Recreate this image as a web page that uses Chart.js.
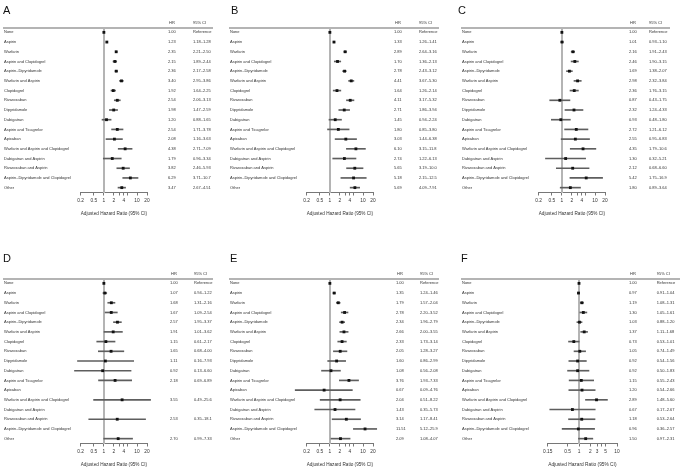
<!DOCTYPE html>
<html>
<head>
<meta charset="utf-8">
<script src="https://cdn.jsdelivr.net/npm/chart.js@4.4.0/dist/chart.umd.min.js"></script>
<style>
  html, body { margin: 0; padding: 0; background: #fff; }
  #wrap { position: relative; width: 680px; height: 470px; overflow: hidden; }
  #wrap canvas { position: absolute; }
</style>
</head>
<body>
<div id="wrap">
  <canvas id="chartA" width="224" height="220" style="left:0;top:0"></canvas>
  <canvas id="chartB" width="224" height="220" style="left:226px;top:0"></canvas>
  <canvas id="chartC" width="222" height="220" style="left:458px;top:0"></canvas>
  <canvas id="chartD" width="224" height="220" style="left:0;top:251px"></canvas>
  <canvas id="chartE" width="224" height="220" style="left:226px;top:251px"></canvas>
  <canvas id="chartF" width="222" height="220" style="left:458px;top:251px"></canvas>
</div>
<script>
var FONT = '"Liberation Sans", Arial, sans-serif';

var categories = ['None', 'Aspirin', 'Warfarin', 'Aspirin and Clopidogrel', 'Aspirin\u2013Dipyridamole',
  'Warfarin and Aspirin', 'Clopidogrel', 'Rivaroxaban', 'Dipyridamole', 'Dabigatran',
  'Aspirin and Ticagrelor', 'Apixaban', 'Warfarin and Aspirin and Clopidogrel', 'Dabigatran and Aspirin',
  'Rivaroxaban and Aspirin', 'Aspirin\u2013Dipyridamole and Clopidogrel', 'Other'];

// hazard ratios and 95% CI per panel
var hrA = [1.00, 1.23, 2.35, 2.15, 2.36, 3.40, 1.92, 2.54, 1.98, 1.20, 2.54, 2.08, 4.38, 1.79, 3.82, 6.29, 3.47];
var loA = [null, 1.18, 2.21, 1.89, 2.17, 2.95, 1.64, 2.06, 1.47, 0.88, 1.71, 1.16, 2.71, 0.96, 2.46, 3.71, 2.67];
var hiA = [null, 1.28, 2.50, 2.44, 2.58, 3.86, 2.25, 3.13, 2.59, 1.65, 3.78, 3.63, 7.09, 3.34, 5.93, 10.7, 4.51];

var hrB = [1.00, 1.33, 2.89, 1.70, 2.78, 4.41, 1.64, 4.11, 2.71, 1.45, 1.80, 3.03, 6.10, 2.74, 5.65, 5.18, 5.69];
var loB = [null, 1.26, 2.64, 1.36, 2.43, 3.67, 1.26, 3.17, 1.86, 0.94, 0.85, 1.44, 3.15, 1.22, 3.19, 2.15, 4.09];
var hiB = [null, 1.41, 3.16, 2.13, 3.12, 5.30, 2.14, 5.32, 3.94, 2.24, 3.80, 6.38, 11.8, 6.13, 10.0, 12.5, 7.91];

var hrC = [1.00, 1.01, 2.16, 2.46, 1.69, 2.98, 2.36, 0.87, 2.32, 0.93, 2.72, 2.55, 4.35, 1.30, 2.12, 5.42, 1.80];
var loC = [null, 0.93, 1.91, 1.90, 1.38, 2.32, 1.76, 0.43, 1.24, 0.48, 1.21, 0.95, 1.79, 0.32, 0.68, 1.75, 0.89];
var hiC = [null, 1.10, 2.43, 3.15, 2.07, 3.84, 3.15, 1.75, 4.33, 1.80, 6.12, 6.83, 10.6, 5.21, 6.60, 16.9, 3.64];

var hrD = [1.00, 1.07, 1.68, 1.67, 2.57, 1.91, 1.15, 1.65, 1.11, 0.92, 2.18, null, 3.55, null, 2.53, null, 2.70];
var loD = [null, 0.94, 1.31, 1.09, 1.95, 1.01, 0.61, 0.68, 0.16, 0.13, 0.69, null, 0.49, null, 0.35, null, 0.99];
var hiD = [null, 1.22, 2.16, 2.54, 3.37, 3.62, 2.17, 4.00, 7.93, 6.60, 6.89, null, 25.6, null, 18.1, null, 7.33];

var hrE = [1.00, 1.35, 1.79, 2.78, 2.34, 2.66, 2.33, 2.05, 1.60, 1.08, 3.76, 0.67, 2.04, 1.43, 3.14, 11.51, 2.09];
var loE = [null, 1.24, 1.57, 2.20, 1.96, 2.00, 1.73, 1.28, 0.86, 0.56, 1.93, 0.09, 0.51, 0.35, 1.17, 5.12, 1.08];
var hiE = [null, 1.46, 2.04, 3.52, 2.79, 3.55, 3.14, 3.27, 2.99, 2.08, 7.33, 4.76, 8.22, 5.73, 8.41, 25.9, 4.07];

var hrF = [1.00, 0.97, 1.19, 1.30, 1.03, 1.37, 0.73, 1.05, 0.92, 0.92, 1.15, 1.20, 2.89, 0.67, 1.18, 0.96, 1.50];
var loF = [null, 0.91, 1.08, 1.05, 0.88, 1.11, 0.53, 0.74, 0.54, 0.50, 0.55, 0.54, 1.48, 0.17, 0.53, 0.36, 0.97];
var hiF = [null, 1.04, 1.31, 1.61, 1.20, 1.68, 1.01, 1.49, 1.56, 1.83, 2.43, 2.66, 5.60, 2.67, 2.64, 2.57, 2.31];

// x axis ticks (all marks) and the ones that carry a label
var ticksMain = [0.2, 0.5, 1, 2, 3, 4, 5, 10, 20];
var labelsMain = [0.2, 0.5, 1, 2, 4, 10, 20];
var ticksF = [0.15, 0.5, 1, 2, 3, 4, 5, 10];
var labelsF = [0.15, 0.5, 1, 2, 3, 5, 10];

function fmtCI(v) {
  return v >= 10 ? v.toFixed(1) : v.toFixed(2);
}

// letter, header, rule, reference line at HR = 1, HR and CI columns
var panelText = {
  id: 'panelText',
  beforeDatasetsDraw: function(chart) {
    var c = chart.ctx, area = chart.chartArea;
    var x = Math.round(chart.scales.x.getPixelForValue(1));
    c.save();
    c.fillStyle = '#b4b4b4';
    c.fillRect(x - 1, Math.round(area.top), 2, Math.round(area.bottom - area.top));
    c.restore();
  },
  afterDraw: function(chart, args, o) {
    var c = chart.ctx, ys = chart.scales.y, area = chart.chartArea;
    c.save();
    c.fillStyle = '#111';
    c.font = '11px ' + FONT;
    c.textAlign = 'left';
    c.textBaseline = 'alphabetic';
    c.fillText(o.letter, o.letterX, o.letterY);

    c.fillStyle = '#b4b4b4';
    c.fillRect(o.labelX - 1, Math.round(area.top) - 1, o.lineEnd - o.labelX + 1, 2);

    c.font = '4px ' + FONT;
    c.fillStyle = '#333';
    c.textBaseline = 'middle';
    c.fillText('HR', o.hrX + 1, area.top - 4.5);
    c.fillText('95% CI', o.ciX, area.top - 4.5);

    for (var i = 0; i < o.hr.length; i++) {
      if (o.hr[i] == null) continue;
      var y = ys.getPixelForValue(i);
      c.fillText(o.hr[i].toFixed(2), o.hrX, y);
      c.fillText(i === 0 ? 'Reference' : fmtCI(o.lo[i]) + '\u2013' + fmtCI(o.hi[i]), o.ciX, y);
    }
    c.restore();
  }
};

function makePanel(id, letter, hr, lo, hi, geo) {
  var canvas = document.getElementById(id);
  var H = canvas.height, W = canvas.width;
  var bars = lo.map(function(v, i) { return v == null ? null : [v, hi[i]]; });
  var points = hr.map(function(v, i) { return {x: v, y: categories[i]}; });

  return new Chart(canvas, {
    type: 'bar',
    data: {
      labels: categories,
      datasets: [
        {
          type: 'bar', data: bars, backgroundColor: '#5e5e5e',
          barThickness: 1, clip: false, order: 2
        },
        {
          type: 'scatter', data: points, pointStyle: 'rect', pointRadius: 2,
          backgroundColor: '#111', borderWidth: 0, clip: false, order: 1
        }
      ]
    },
    options: {
      indexAxis: 'y',
      responsive: false,
      animation: false,
      events: [],
      layout: { padding: { left: geo.labelX, right: W - geo.right, top: geo.top, bottom: 0 } },
      plugins: {
        legend: { display: false },
        tooltip: { enabled: false },
        panelText: {
          letter: letter, letterX: geo.letterX, letterY: geo.letterY,
          labelX: geo.labelX, hrX: geo.hrX, ciX: geo.ciX, lineEnd: geo.lineEnd,
          hr: hr, lo: lo, hi: hi
        }
      },
      scales: {
        x: {
          type: 'logarithmic', position: 'bottom', min: geo.min, max: geo.max,
          afterBuildTicks: function(s) {
            s.ticks = geo.ticks.map(function(v) { return {value: v}; });
          },
          afterFit: function(s) { s.height = H - geo.bottom; },
          ticks: {
            font: {family: FONT, size: 4.8}, color: '#333', padding: 2,
            maxRotation: 0, autoSkip: false,
            callback: function(v) { return geo.shown.indexOf(v) >= 0 ? String(v) : ''; }
          },
          grid: {
            drawOnChartArea: false,
            tickColor: '#777', tickLength: 3, lineWidth: 1
          },
          border: { display: true, color: '#777', width: 1 },
          title: {
            display: true, text: 'Adjusted Hazard Ratio (95% CI)',
            font: {family: FONT, size: 4.8}, color: '#333',
            padding: {top: 0, bottom: 3}
          }
        },
        y: {
          type: 'category', position: 'left', offset: true,
          afterFit: function(s) { s.width = geo.left - geo.labelX; },
          ticks: { crossAlign: 'far', font: {family: FONT, size: 4}, color: '#333', autoSkip: false, padding: 0 },
          grid: { display: false },
          border: { display: false }
        }
      }
    },
    plugins: [panelText]
  });
}

function geoOf(extra) {
  var g = {
    labelX: 4, left: 80.7, right: 147, top: 27.5, bottom: 192.5,
    hrX: 168, ciX: 193, lineEnd: 213, letterX: 3, letterY: 13.5,
    min: 0.2, max: 20, ticks: ticksMain, shown: labelsMain
  };
  for (var k in extra) g[k] = extra[k];
  return g;
}

makePanel('chartA', 'A', hrA, loA, hiA, geoOf({}));
makePanel('chartB', 'B', hrB, loB, hiB, geoOf({letterX: 5}));
makePanel('chartC', 'C', hrC, loC, hiC, geoOf({letterX: 0, hrX: 171, ciX: 191, lineEnd: 212}));
makePanel('chartD', 'D', hrD, loD, hiD, geoOf({letterX: 3, letterY: 10.5, hrX: 170, ciX: 194}));
makePanel('chartE', 'E', hrE, loE, hiE, geoOf({letterX: 4, letterY: 10.5, hrX: 170, ciX: 194}));
makePanel('chartF', 'F', hrF, loF, hiF, geoOf({
  letterX: 3, letterY: 10.5, left: 89.7, right: 159, hrX: 171, ciX: 198.7, lineEnd: 222,
  min: 0.15, max: 10, ticks: ticksF, shown: labelsF
}));
</script>
</body>
</html>
